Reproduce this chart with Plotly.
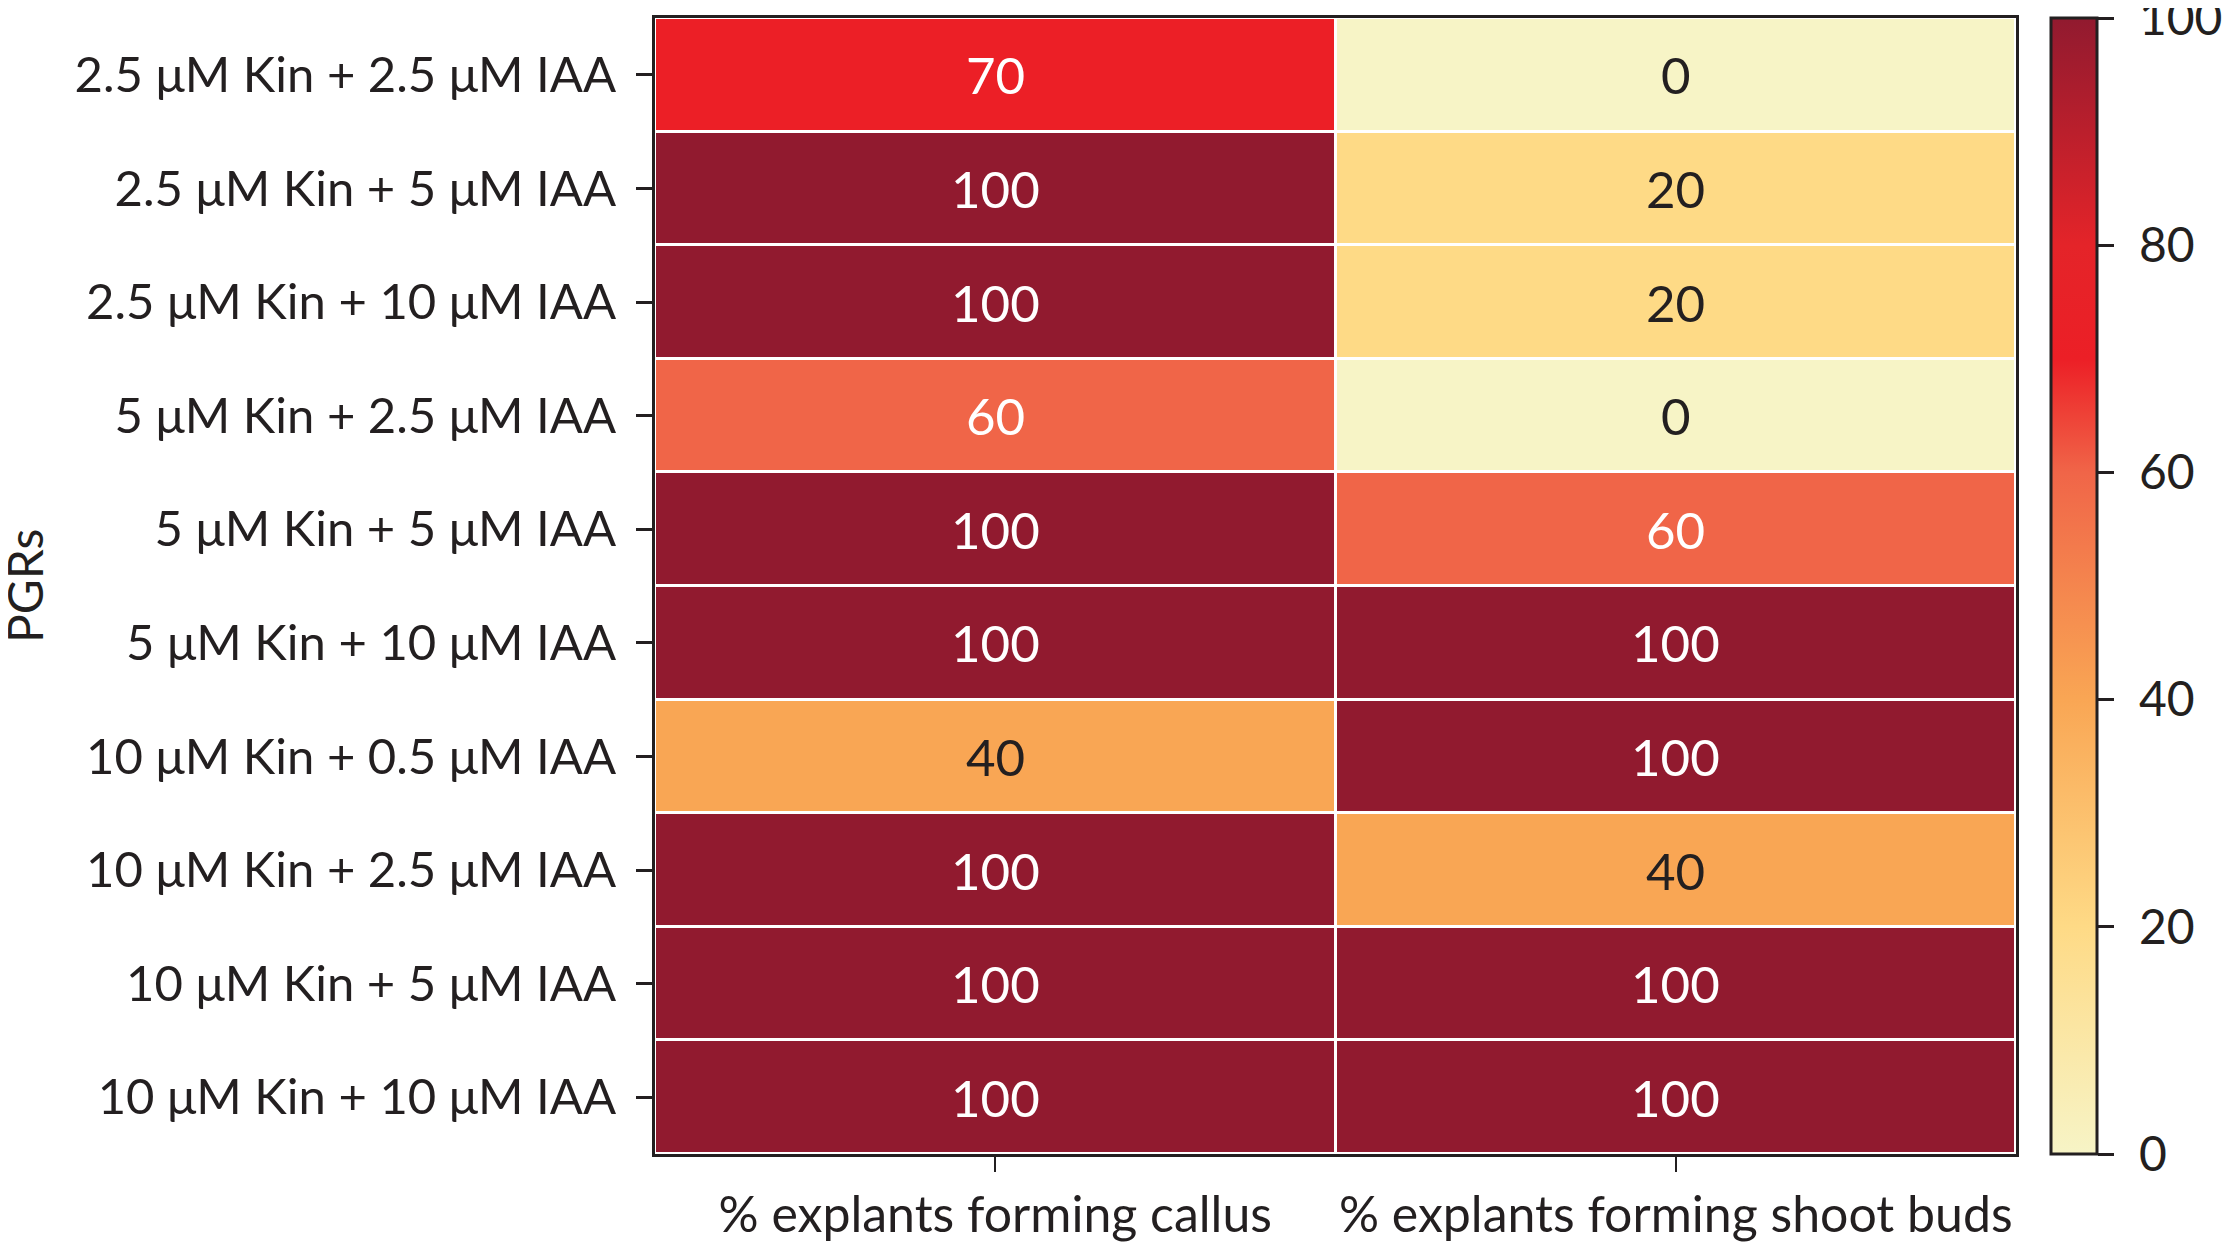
import plotly.graph_objects as go

treatments = [
    "2.5 μM Kin + 2.5 μM IAA",
    "2.5 μM Kin + 5 μM IAA",
    "2.5 μM Kin + 10 μM IAA",
    "5 μM Kin + 2.5 μM IAA",
    "5 μM Kin + 5 μM IAA",
    "5 μM Kin + 10 μM IAA",
    "10 μM Kin + 0.5 μM IAA",
    "10 μM Kin + 2.5 μM IAA",
    "10 μM Kin + 5 μM IAA",
    "10 μM Kin + 10 μM IAA",
]
measures = ["% explants forming callus", "% explants forming shoot buds"]
callus = [70, 100, 100, 60, 100, 100, 40, 100, 100, 100]
shoot_buds = [0, 20, 20, 0, 60, 100, 100, 40, 100, 100]
cbar_ticks = [0, 20, 40, 60, 80, 100]

z = [[c, s] for c, s in zip(callus, shoot_buds)]

colorscale = [
    [0.0, "#F7F4C6"],
    [0.2, "#FEDA86"],
    [0.4, "#F9A654"],
    [0.6, "#F06548"],
    [0.7, "#EC1F26"],
    [0.8, "#E42429"],
    [1.0, "#911A2F"],
]

FONT = "Lato"
TXT = "#231F20"
PAD = "\u00a0\u200a"

fig = go.Figure(
    go.Heatmap(
        z=z,
        x=measures,
        y=treatments,
        zmin=0,
        zmax=100,
        colorscale=colorscale,
        xgap=3,
        ygap=3,
        colorbar=dict(
            thickness=46,
            len=1.0,
            lenmode="fraction",
            y=0.5,
            yanchor="middle",
            x=1.0257,
            xanchor="left",
            xpad=0,
            ypad=0,
            outlinecolor="#231F20",
            outlinewidth=3,
            tickmode="array",
            tickvals=cbar_ticks,
            ticktext=[PAD + str(v) for v in cbar_ticks],
            ticks="outside",
            ticklen=16,
            tickwidth=3,
            tickcolor=TXT,
            ticklabeloverflow="allow",
            tickfont=dict(family=FONT, size=48, color=TXT),
        ),
        hoverinfo="skip",
    )
)

annotations = []
for i, t in enumerate(treatments):
    for j, m in enumerate(measures):
        v = z[i][j]
        annotations.append(
            dict(
                x=m,
                y=t,
                text=str(v),
                showarrow=False,
                font=dict(family=FONT, size=51, color="white" if v >= 50 else TXT),
            )
        )

# y-axis title placed as a rotated annotation
annotations.append(
    dict(
        text="PGRs",
        xref="paper",
        yref="paper",
        x=-0.4636,
        y=0.5,
        xanchor="center",
        yanchor="middle",
        textangle=-90,
        showarrow=False,
        borderpad=0,
        font=dict(family=FONT, size=48, color=TXT),
    )
)

fig.update_layout(
    width=2223,
    height=1236,
    margin=dict(l=647, r=215, t=10, b=90, autoexpand=False),
    paper_bgcolor="white",
    plot_bgcolor="white",
    font=dict(family=FONT, color=TXT),
    annotations=annotations,
    xaxis=dict(
        automargin=False,
        ticks="outside",
        ticklen=15,
        tickwidth=2,
        tickcolor=TXT,
        ticklabelstandoff=0,
        tickfont=dict(family=FONT, size=50, color=TXT),
        showline=True,
        linecolor="#231F20",
        linewidth=3,
        mirror=True,
        showgrid=False,
        zeroline=False,
    ),
    yaxis=dict(
        automargin=False,
        autorange="reversed",
        ticks="outside",
        ticklen=16,
        tickwidth=3,
        tickcolor=TXT,
        ticklabelstandoff=10,
        tickfont=dict(family=FONT, size=49, color=TXT),
        showline=True,
        linecolor="#231F20",
        linewidth=3,
        mirror=True,
        showgrid=False,
        zeroline=False,
    ),
)

fig.write_html("out.html")
